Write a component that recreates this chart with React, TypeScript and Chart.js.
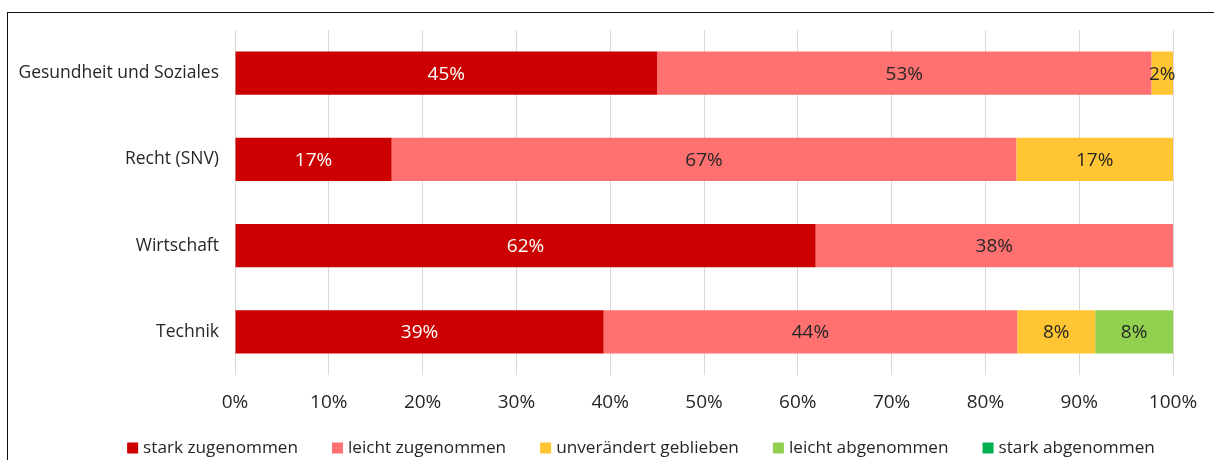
import React, { useEffect, useRef } from "react";
import { Chart, registerables } from "chart.js";

Chart.register(...registerables);

const categories = ["Gesundheit und Soziales", "Recht (SNV)", "Wirtschaft", "Technik"];
const seriesNames = [
  "stark zugenommen",
  "leicht zugenommen",
  "unverändert geblieben",
  "leicht abgenommen",
  "stark abgenommen",
];
const starkZugenommen = [45.0, 16.7, 61.9, 39.3];
const leichtZugenommen = [52.7, 66.6, 38.1, 44.1];
const unveraendert = [2.3, 16.7, 0, 8.3];
const leichtAbgenommen = [0, 0, 0, 8.3];
const starkAbgenommen = [0, 0, 0, 0];
const seriesColors = ["#CC0000", "#FF7171", "#FFC532", "#92D050", "#00B050"];
const labelColors = ["#FFFFFF", "#262626", "#262626", "#262626", "#262626"];
const xTickValues = [0, 10, 20, 30, 40, 50, 60, 70, 80, 90, 100];

const FONT = "'Open Sans', 'Noto Sans', sans-serif";

const dataLabelPlugin = {
  id: "dataLabels",
  afterDatasetsDraw(chart: any) {
    const ctx = chart.ctx;
    ctx.save();
    ctx.font = `19px ${FONT}`;
    ctx.textAlign = "center";
    ctx.textBaseline = "middle";
    chart.data.datasets.forEach((ds: any, di: number) => {
      const meta = chart.getDatasetMeta(di);
      meta.data.forEach((el: any, i: number) => {
        const v = ds.data[i];
        if (!v) return;
        const c = el.getCenterPoint();
        ctx.fillStyle = labelColors[di];
        ctx.fillText(Math.round(v) + "%", c.x, c.y + 1);
      });
    });
    ctx.restore();
  },
};

const legendPlugin = {
  id: "customLegend",
  afterDraw(chart: any) {
    const ctx = chart.ctx;
    ctx.save();
    ctx.font = `17.2px ${FONT}`;
    ctx.textBaseline = "middle";
    ctx.textAlign = "left";
    const box = 11;
    const gapText = 5;
    const gapItem = 34;
    const widths = seriesNames.map((n) => ctx.measureText(n).width);
    const total =
      widths.reduce((a: number, w: number) => a + box + gapText + w, 0) + gapItem * (seriesNames.length - 1);
    let x = 641 - total / 2;
    const y = 448;
    seriesNames.forEach((n, i) => {
      ctx.fillStyle = seriesColors[i];
      ctx.fillRect(x, y - box / 2, box, box);
      ctx.fillStyle = "#262626";
      ctx.fillText(n, x + box + gapText, y);
      x += box + gapText + widths[i] + gapItem;
    });
    ctx.restore();
  },
};

export default function App() {
  const ref = useRef<HTMLCanvasElement | null>(null);
  useEffect(() => {
    if (!ref.current) return;
    const values = [starkZugenommen, leichtZugenommen, unveraendert, leichtAbgenommen, starkAbgenommen];
    const chart = new Chart(ref.current, {
      type: "bar",
      data: {
        labels: categories,
        datasets: seriesNames.map((name, i) => ({
          label: name,
          data: values[i],
          backgroundColor: seriesColors[i],
          borderWidth: 0,
          barPercentage: 0.5,
          categoryPercentage: 1,
        })),
      },
      options: {
        indexAxis: "y",
        responsive: false,
        animation: false,
        devicePixelRatio: 1,
        layout: { padding: { top: 30, right: 41, bottom: 40, left: 0 } },
        plugins: {
          legend: { display: false },
          tooltip: { enabled: false },
        },
        scales: {
          x: {
            stacked: true,
            min: 0,
            max: 100,
            afterBuildTicks: (scale: any) => {
              scale.ticks = xTickValues.map((v) => ({ value: v }));
            },
            afterFit: (scale: any) => {
              scale.height = 45;
            },
            ticks: {
              callback: (v: any) => v + "%",
              color: "#262626",
              font: { family: FONT, size: 19 },
              padding: 16,
              maxRotation: 0,
            },
            grid: { color: "#D9D9D9", drawTicks: false, lineWidth: 1 },
            border: { display: false },
          },
          y: {
            stacked: true,
            afterFit: (scale: any) => {
              scale.width = 235;
            },
            ticks: {
              color: "#262626",
              font: { family: FONT, size: 17.5 },
              padding: 8,
            },
            grid: { display: false },
            border: { display: false },
          },
        },
      },
      plugins: [dataLabelPlugin, legendPlugin],
    } as any);
    return () => chart.destroy();
  }, []);

  return (
    <div style={{ position: "absolute", left: 0, top: 0, width: 1214, height: 460, background: "#fff", overflow: "hidden" }}>
      <div
        style={{
          position: "absolute",
          left: 7,
          top: 12,
          width: 1300,
          height: 500,
          borderTop: "1px solid #111",
          borderLeft: "1px solid #111",
        }}
      />
      <canvas ref={ref} width={1214} height={460} style={{ position: "absolute", left: 0, top: 0 }} />
    </div>
  );
}
